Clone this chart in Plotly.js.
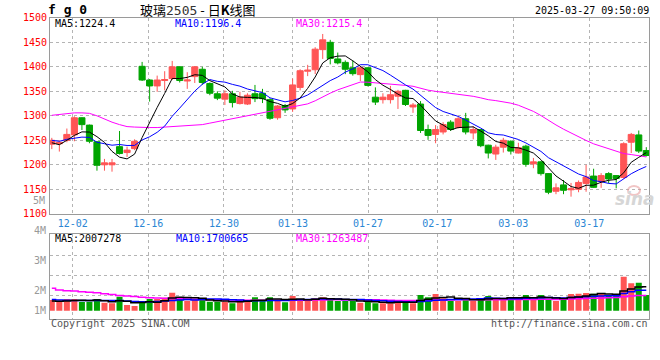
<!DOCTYPE html>
<html><head><meta charset="utf-8">
<script src="https://cdn.plot.ly/plotly-3.0.1.min.js"></script>
<style>html,body{margin:0;padding:0;background:#fff;overflow:hidden}#chart{width:660px;height:360px}</style>
</head><body><div id="chart"></div>
<script>
// ---------- data ----------
const dates = ['2024-11-27','2024-11-28','2024-11-29','2024-12-02','2024-12-03','2024-12-04','2024-12-05','2024-12-06','2024-12-09','2024-12-10','2024-12-11','2024-12-12','2024-12-13','2024-12-16','2024-12-17','2024-12-18','2024-12-19','2024-12-20','2024-12-23','2024-12-24','2024-12-25','2024-12-26','2024-12-27','2024-12-30','2024-12-31','2025-01-02','2025-01-03','2025-01-06','2025-01-07','2025-01-08','2025-01-09','2025-01-10','2025-01-13','2025-01-14','2025-01-15','2025-01-16','2025-01-17','2025-01-20','2025-01-21','2025-01-22','2025-01-23','2025-01-24','2025-01-27','2025-02-05','2025-02-06','2025-02-07','2025-02-10','2025-02-11','2025-02-12','2025-02-13','2025-02-14','2025-02-17','2025-02-18','2025-02-19','2025-02-20','2025-02-21','2025-02-24','2025-02-25','2025-02-26','2025-02-27','2025-02-28','2025-03-03','2025-03-04','2025-03-05','2025-03-06','2025-03-07','2025-03-10','2025-03-11','2025-03-12','2025-03-13','2025-03-14','2025-03-17','2025-03-18','2025-03-19','2025-03-20','2025-03-21','2025-03-24','2025-03-25','2025-03-26','2025-03-27'];

const open  = [1242,1243,1250,1261,1296,1281,1247,1200,1200,1237,1225,1233,1401,1373,1361,1372,1376,1400,1371,1380,1395,1366,1345,1334,1345,1325,1324,1345,1346,1333,1296,1321,1314,1358,1391,1394,1435,1450,1416,1409,1398,1384,1398,1338,1333,1333,1340,1352,1318,1324,1272,1262,1267,1287,1276,1294,1265,1272,1240,1222,1236,1248,1224,1238,1202,1206,1182,1146,1159,1149,1150,1162,1177,1166,1182,1178,1174,1246,1261,1229];
const high  = [1255,1250,1274,1299,1297,1282,1248,1212,1212,1269,1237,1252,1410,1375,1382,1391,1412,1401,1389,1401,1400,1368,1350,1352,1351,1349,1346,1363,1355,1336,1322,1324,1376,1395,1404,1440,1467,1455,1429,1413,1413,1400,1399,1358,1346,1361,1353,1353,1326,1330,1282,1281,1287,1291,1298,1306,1279,1273,1241,1241,1255,1250,1245,1241,1214,1208,1183,1162,1169,1163,1168,1200,1192,1183,1185,1179,1246,1265,1270,1236];
const low   = [1232,1227,1246,1248,1271,1244,1188,1188,1186,1221,1216,1230,1371,1329,1349,1352,1373,1368,1355,1367,1363,1342,1332,1322,1317,1323,1322,1328,1326,1292,1292,1306,1308,1352,1381,1385,1416,1405,1405,1385,1382,1371,1360,1322,1325,1325,1314,1320,1306,1265,1251,1244,1262,1269,1274,1262,1252,1236,1213,1210,1225,1221,1223,1196,1193,1178,1140,1140,1140,1135,1144,1145,1153,1153,1162,1152,1172,1224,1224,1217];
const close = [1250,1246,1262,1296,1282,1248,1199,1204,1204,1223,1230,1248,1373,1361,1373,1374,1400,1372,1373,1400,1368,1346,1336,1345,1327,1338,1342,1335,1335,1295,1320,1312,1363,1392,1393,1436,1455,1417,1408,1395,1386,1398,1362,1328,1338,1343,1350,1323,1322,1270,1260,1272,1282,1272,1294,1267,1272,1239,1224,1236,1250,1228,1235,1201,1206,1182,1144,1153,1148,1151,1164,1175,1154,1178,1171,1172,1243,1262,1228,1219];

const ma5  = [1245,1241,1250,1260,1267.2,1266.8,1257.4,1245.8,1227.4,1215.6,1212.0,1221.8,1255.6,1287.0,1317.0,1345.8,1376.2,1376.0,1378.4,1383.8,1382.6,1371.8,1364.6,1359.0,1344.4,1338.4,1337.6,1337.4,1335.4,1329.0,1325.4,1319.4,1325.0,1336.4,1356.0,1379.2,1407.8,1418.6,1421.8,1422.2,1412.2,1400.8,1389.8,1373.8,1362.4,1353.8,1344.2,1336.4,1335.2,1321.6,1305.0,1289.4,1281.2,1271.2,1276.0,1277.4,1277.4,1268.8,1259.2,1247.6,1244.2,1235.4,1234.6,1230.0,1224.0,1210.4,1193.6,1177.2,1166.6,1155.6,1152.0,1158.2,1158.4,1164.4,1168.4,1170.0,1183.6,1205.2,1215.2,1224.8];
const ma10 = [1250,1248,1252,1255,1256.5,1256,1246,1243,1240,1241.4,1239.4,1239.6,1250.7,1257.2,1266.3,1278.9,1299.0,1315.8,1332.7,1350.4,1364.2,1374.0,1370.3,1368.7,1364.1,1360.5,1354.7,1351.0,1347.2,1336.7,1331.9,1328.5,1331.2,1335.9,1342.5,1352.3,1363.6,1371.8,1379.1,1389.1,1395.7,1404.3,1404.2,1397.8,1392.3,1383.0,1372.5,1363.1,1354.5,1342.0,1329.4,1316.8,1308.8,1303.2,1298.8,1291.2,1283.4,1275.0,1265.2,1261.8,1260.8,1256.4,1251.7,1244.6,1235.8,1227.3,1214.5,1205.9,1198.3,1189.8,1181.2,1175.9,1167.8,1165.5,1162.0,1161.0,1170.9,1181.8,1189.8,1196.6];
const ma30 = [1301,1303,1304,1306,1306,1305,1300,1293,1287,1282,1278,1277,1276,1276,1276,1277,1278,1278,1279,1280.5,1282,1285,1288,1291,1294,1297,1300,1303,1306.5,1309.5,1311.8,1314.0,1317.4,1320.6,1324.3,1330.6,1339.1,1346.2,1353.0,1358.7,1363.9,1368.9,1368.6,1367.5,1366.3,1365.3,1363.6,1362.0,1360.3,1355.9,1352.3,1349.9,1348.1,1345.6,1344.5,1342.2,1339.8,1336.6,1332.9,1331.0,1328.6,1325.8,1321.6,1315.2,1309.0,1300.5,1290.1,1281.3,1272.7,1264.5,1257.1,1249.7,1242.8,1237.8,1232.2,1226.5,1222.9,1220.9,1217.8,1216.1];

// volume, thousands
const volume = [910,765,995,995,765,765,995,680,629,1190,485,400,765,995,995,1105,1530,1105,850,910,910,765,765,765,629,910,910,1139,825,1139,910,714,1250,910,910,1054,1139,1020,825,825,825,680,825,629,629,629,910,825,629,1335,1139,1420,1054,850,825,1054,825,1054,1250,1054,1054,1139,1054,1335,910,1335,1020,825,1054,1420,1450,1500,1450,1500,1250,1250,2890,2329,2380,1335];
const volMa5  = [820,800,830,860,886,857,903,840,767,852,796,677,694,767,728,852,1078,1146,1117,1100,1061,908,840,823,767,767,796,871,883,985,985,945,968,985,939,968,1053,1007,990,973,927,835,796,757,718,678,724,724,724,866,968,1070,1115,1160,1058,1041,922,922,1002,1047,1047,1110,1110,1127,1098,1155,1131,1085,1029,1131,1154,1250,1375,1464,1430,1390,1668,1844,2020,2037];
const volMa10 = [960,900,880,870,860,860,860,860,865,869,826,790,767,767,790,824,877,920,942,914,957,993,993,970,933,914,852,855,853,876,876,871,919,934,962,976,999,987,987,956,947,944,901,873,845,803,780,760,741,792,823,897,920,942,962,1004,996,1019,1081,1053,1044,1016,1016,1064,1073,1101,1121,1098,1078,1115,1154,1190,1230,1246,1280,1272,1459,1609,1742,1733];
const volMa30 = [1900,1760,1700,1670,1610,1560,1520,1450,1380,1300,1250,1200,1150,1100,1070,1050,1030,1010,990,970,950,930,920,910,900,895,890,888,887,886,886,885,893,890,895,905,909,921,927,915,926,936,938,926,913,898,877,868,860,874,882,904,913,916,923,928,925,922,936,933,938,952,946,960,960,969,965,959,966,986,1007,1034,1055,1084,1105,1126,1192,1242,1300,1300];

const tickDates  = ['12-02','12-16','12-30','01-13','01-27','02-17','03-03','03-17'];
const priceTicks = [1100,1150,1200,1250,1300,1350,1400,1450,1500];

// ---------- styling ----------
const RED = '#ff5555', GREEN = '#00a400';
const MONO = 'DejaVu Sans Mono, monospace';
const W = 660, H = 360;
const xi = dates.map((d, i) => i);
const gridPos = [2.78, 12.82, 22.88, 32.05, 42.02, 51.23, 61.33, 71.43];
const volColors = close.map((c, i) => c >= open[i] ? RED : GREEN);

const traces = [
  {type:'candlestick', x:xi, open:open, high:high, low:low, close:close, xaxis:'x', yaxis:'y',
   increasing:{line:{color:RED,width:1}, fillcolor:RED},
   decreasing:{line:{color:GREEN,width:1}, fillcolor:GREEN},
   whiskerwidth:0, hoverinfo:'skip'},
  {type:'scatter', mode:'lines', x:xi, y:ma30, line:{color:'#ff00ff', width:1}, xaxis:'x', yaxis:'y', hoverinfo:'skip'},
  {type:'scatter', mode:'lines', x:xi, y:ma10, line:{color:'#0000ff', width:1}, xaxis:'x', yaxis:'y', hoverinfo:'skip'},
  {type:'scatter', mode:'lines', x:xi, y:ma5,  line:{color:'#000000', width:1}, xaxis:'x', yaxis:'y', hoverinfo:'skip'},
  {type:'bar', x:xi, y:volume, marker:{color:volColors, line:{width:0}}, xaxis:'x2', yaxis:'y2', hoverinfo:'skip'},
  {type:'scatter', mode:'lines', x:xi, y:volMa30, line:{color:'#ff00ff', width:1.5, shape:'hvh'}, xaxis:'x2', yaxis:'y2', hoverinfo:'skip'},
  {type:'scatter', mode:'lines', x:xi, y:volMa10, line:{color:'#0000ff', width:1.5, shape:'hvh'}, xaxis:'x2', yaxis:'y2', hoverinfo:'skip'},
  {type:'scatter', mode:'lines', x:xi, y:volMa5,  line:{color:'#000000', width:1.5, shape:'hvh'}, xaxis:'x2', yaxis:'y2', hoverinfo:'skip'}
];

const px = v => v / W, py = v => 1 - v / H;
function label(text, x, y, color, anchor, size, extra) {
  return Object.assign({text:text, xref:'paper', yref:'paper', x:px(x), y:py(y), xanchor:anchor||'left', yanchor:'middle',
    showarrow:false, borderpad:0, font:{family:MONO, size:size||10, color:color}}, extra||{});
}

const gridCommon = {showgrid:true, gridcolor:'#b4b4b4', griddash:'dot', gridwidth:1, zeroline:false,
  showline:true, linecolor:'#9a9a9a', linewidth:1, mirror:true, ticks:'', fixedrange:true};

const layout = {
  width:W, height:H, margin:{l:0,r:0,t:0,b:0}, paper_bgcolor:'#fff', plot_bgcolor:'#fff',
  showlegend:false, hovermode:false, bargap:0.2, boxgap:0.1, boxgroupgap:0.1,
  xaxis: Object.assign({}, gridCommon, {domain:[px(50), px(649.3)], range:[-0.24, 79.4], anchor:'y',
    tickmode:'array', tickvals:gridPos, ticktext:tickDates, ticklabelstandoff:0,
    tickfont:{family:MONO, size:10, color:'#2a86d4'}, rangeslider:{visible:false}}),
  yaxis: Object.assign({}, gridCommon, {domain:[py(213.8), py(17.8)], range:[1100,1500], anchor:'x',
    tickmode:'array', tickvals:priceTicks, ticktext:priceTicks.map(String),
    tickfont:{family:MONO, size:10, color:'#ff0000'}}),
  xaxis2: Object.assign({}, gridCommon, {domain:[px(50), px(649.3)], range:[-0.24, 79.4], anchor:'y2', matches:'x',
    tickmode:'array', tickvals:gridPos, showticklabels:false}),
  yaxis2: Object.assign({}, gridCommon, {domain:[py(318.7), py(234.3)], range:[-680, 6494], anchor:'x2',
    tickmode:'array', tickvals:[1275, 3009, 4734.5], showticklabels:false}),
  annotations: [
    label('<b>f g 0</b>', 47, 9.5, '#000', 'left', 13),
    label('玻璃<span style="font-family:DejaVu Sans Mono;color:#333">2505</span> - 日<b>K</b>线图', 139, 9, '#000', 'left', 13,
      {font:{family:'Noto Sans CJK SC, sans-serif', size:13, color:'#000'}}),
    label('2025-03-27 09:50:09', 650, 10, '#000', 'right', 10),
    label('MA5:1224.4', 54, 24, '#000000'),
    label('MA10:1196.4', 174, 24, '#0000ff'),
    label('MA30:1215.4', 295, 24, '#ff00ff'),
    label('5M', 46, 200.5, '#999999', 'right'),
    label('MA5:2007278', 54, 238.5, '#000000'),
    label('MA10:1700665', 175, 238.5, '#0000ff'),
    label('MA30:1263487', 295, 238.5, '#ff00ff'),
    label('4M', 47, 230.7, '#999999', 'right'),
    label('3M', 47, 260.7, '#999999', 'right'),
    label('2M', 47, 290.7, '#999999', 'right'),
    label('1M', 47, 310.7, '#999999', 'right'),
    label('Copyright 2025 SINA.COM', 50, 323.5, '#555555'),
    label('http://finance.sina.com.cn', 649, 323.5, '#555555', 'right'),
    label('<b><i>sina</i></b>', 635, 199, '#d6d6d6', 'center', 17, {font:{family:'DejaVu Sans, sans-serif', size:17, color:'#d6d6d6'}})
  ],
  shapes: [
    {type:'circle', xref:'paper', yref:'paper', x0:px(628), x1:px(640), y0:py(195), y1:py(186),
     line:{color:'rgba(230,150,150,0.55)', width:2}, fillcolor:'rgba(0,0,0,0)'}
  ]
};

Plotly.newPlot('chart', traces, layout, {displayModeBar:false, staticPlot:true});
</script>
</body></html>
